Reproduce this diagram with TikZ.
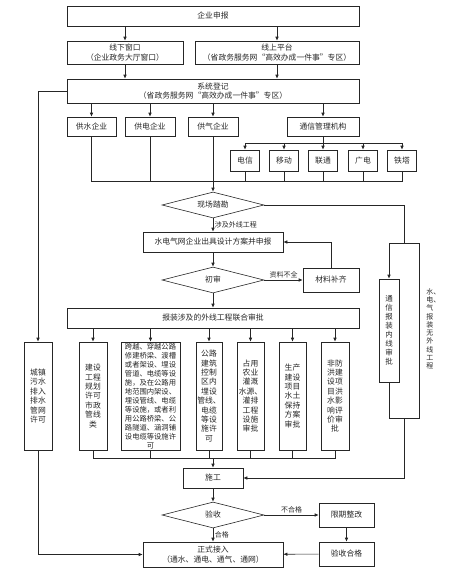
\documentclass[tikz,border=0pt]{standalone}
\usepackage{fontspec}
\setmainfont{Noto Sans CJK SC}
\usetikzlibrary{shapes.geometric,arrows.meta}

\begin{document}
\begin{tikzpicture}[
        x=1pt, y=-1pt, color=black!85,
        font=\fontsize{7.8}{9.4}\selectfont,
        line width=0.6pt,
        >={Latex[length=4pt,width=3.5pt]},
        block/.style={rectangle, draw, line width=0.6pt, inner sep=1pt, align=center},
        decision/.style={diamond, draw, line width=0.6pt, aspect=4, inner sep=0pt, minimum width=102pt, minimum height=26pt},
        tallbox/.style={block, minimum height=108pt, minimum width=28pt},
        carrier/.style={block, minimum width=29pt, minimum height=21pt},
        edgelabel/.style={font=\fontsize{7}{8}\selectfont, inner sep=1.5pt},
        ]
        \useasboundingbox (0,0) rectangle (463,573);

        \node (report) at (213,16) [block, minimum width=292pt, minimum height=20pt] {企业申报};
        \node (offline) at (125,52.5) [block, minimum width=116pt, minimum height=23pt] {线下窗口\\（企业政务大厅窗口）};
        \node (online) at (277,52.5) [block, minimum width=164pt, minimum height=23pt] {线上平台\\（省政务服务网“高效办成一件事”专区）};
        \node (register) at (213,91) [block, minimum width=292pt, minimum height=24pt] {系统登记\\（省政务服务网“高效办成一件事”专区）};

        \node (water) at (91.5,126.5) [block, minimum width=49pt, minimum height=19pt] {供水企业};
        \node (power) at (150,126.5) [block, minimum width=50pt, minimum height=19pt] {供电企业};
        \node (gas) at (213,126.5) [block, minimum width=50pt, minimum height=19pt] {供气企业};
        \node (telecom) at (323,126.5) [block, minimum width=72pt, minimum height=19pt] {通信管理机构};

        \node (dx) at (245,160.5) [carrier] {电信};
        \node (yd) at (284,160.5) [carrier] {移动};
        \node (lt) at (323,160.5) [carrier] {联通};
        \node (gd) at (363,160.5) [carrier] {广电};
        \node (tt) at (402,160.5) [carrier] {铁塔};

        \node (survey) at (213,205) [decision] {现场踏勘};
        \node (design) at (213,242) [block, minimum width=140pt, minimum height=20pt] {水电气网企业出具设计方案并申报};
        \node (review) at (213,280) [decision] {初审};
        \node (supply) at (331,280) [block, minimum width=56pt, minimum height=24pt] {材料补齐};
        \node (joint) at (213,318) [block, minimum width=292pt, minimum height=20pt] {报装涉及的外线工程联合审批};

        \node (sewage) at (38,396) [tallbox] {城镇\\污水\\排入\\排水\\管网\\许可};
        \node (plan) at (93,396) [tallbox] {建设\\工程\\规划\\许可\\市政\\管线\\类};
        \node (cross) at (150.5,396) [tallbox, minimum width=59pt, font=\fontsize{7.3}{9}\selectfont] {跨越、穿越公路\\修建桥梁、渡槽\\或者架设、埋设\\管道、电缆等设\\施，及在公路用\\地范围内架设、\\埋设管线、电缆\\等设施，或者利\\用公路桥梁、公\\路隧道、涵洞铺\\设电缆等设施许\\可};
        \node (road) at (209,396) [tallbox, minimum width=26pt] {公路\\建筑\\控制\\区内\\埋设\\管线、\\电缆\\等设\\施许\\可};
        \node (farm) at (250.5,396) [tallbox, minimum width=27pt] {占用\\农业\\灌溉\\水源、\\灌排\\工程\\设施\\审批};
        \node (soil) at (292.5,396) [tallbox, minimum width=27pt] {生产\\建设\\项目\\水土\\保持\\方案\\审批};
        \node (flood) at (335,396) [tallbox] {非防\\洪建\\设项\\目洪\\水影\\响评\\价审\\批};

        \node (inner) at (389,330.5) [block, minimum width=20pt, minimum height=103pt, font=\fontsize{7.5}{9}\selectfont] {通\\信\\报\\装\\内\\线\\审\\批};
        \node (notext) at (426,288) [anchor=north west, inner sep=0pt, align=left, font=\fontsize{7}{8.3}\selectfont] {水、\\电、\\气\\报\\装\\无\\外\\线\\工\\程};

        \node (build) at (213,478) [block, minimum width=60pt, minimum height=20pt] {施工};
        \node (accept) at (213,515) [decision] {验收};
        \node (fix) at (346.5,515) [block, minimum width=55pt, minimum height=24pt] {限期整改};
        \node (pass) at (346.5,554) [block, minimum width=55pt, minimum height=24pt] {验收合格};
        \node (connect) at (213,554.5) [block, minimum width=140pt, minimum height=25pt] {正式接入\\（通水、通电、通气、通网）};

        \coordinate (telbus) at (323,143);
        \coordinate (bus1) at (213,181);
        \coordinate (split) at (404,243);
        \coordinate (merge) at (404,418);
        \coordinate (bus2) at (213,458);

        % application channels
        \draw[->] (report.south -| offline) -- (offline);
        \draw[->] (report.south -| online) -- (online);
        \draw[->] (offline) -- (offline |- register.north);
        \draw[->] (online) -- (online |- register.north);
        \draw[->] (register.west) -| (sewage);

        % utility companies
        \draw[->] (register.south -| water) -- (water);
        \draw[->] (register.south -| power) -- (power);
        \draw[->] (register.south -| gas) -- (gas);
        \draw[->] (register.south -| telecom) -- (telecom);
        \draw (telecom) -- (telbus);
        \draw[->] (telbus) -| (dx);
        \draw[->] (telbus) -| (yd);
        \draw[->] (telbus) -- (lt);
        \draw[->] (telbus) -| (gd);
        \draw[->] (telbus) -| (tt);
        \draw (water) |- (bus1);
        \draw (power) |- (bus1);
        \draw (dx) |- (bus1);
        \draw (yd) |- (bus1);
        \draw (lt) |- (bus1);
        \draw (gd) |- (bus1);
        \draw (tt) |- (bus1);
        \draw[->] (gas) -- (survey);

        % survey and design
        \draw[->] (survey) -- node[right, edgelabel] {涉及外线工程} (design);
        \draw (survey.east) -| (split);
        \draw[->] (split) -| (inner);
        \draw (split) -- ++(15,0) |- (merge);
        \draw (inner) |- (merge);
        \draw[->] (merge) |- (build);
        \draw[->] (design) -- (review);
        \draw[->] (review) -- node[above, edgelabel] {资料不全} (supply);
        \draw[->] (supply) |- (design);
        \draw[->] (review) -- (joint);

        % joint approval
        \draw[->] (joint.south -| plan) -- (plan);
        \draw[->] (joint.south -| cross) -- (cross);
        \draw[->] (joint.south -| road) -- (road);
        \draw[->] (joint.south -| farm) -- (farm);
        \draw[->] (joint.south -| soil) -- (soil);
        \draw[->] (joint.south -| flood) -- (flood);
        \draw (plan) |- (bus2);
        \draw (cross) |- (bus2);
        \draw (road) |- (bus2);
        \draw (farm) |- (bus2);
        \draw (soil) |- (bus2);
        \draw (flood) |- (bus2);
        \draw[->] (bus2) -- (build);

        % construction and acceptance
        \draw[->] (build) -- (accept);
        \draw[->] (accept) -- node[above, edgelabel] {不合格} (fix);
        \draw[->] (fix) -- (pass);
        \draw[->] (pass) -- (connect);
        \draw[->] (accept) -- node[right, edgelabel] {合格} (connect);
        \draw[->] (sewage) |- (connect);

    \end{tikzpicture}
\end{document}
